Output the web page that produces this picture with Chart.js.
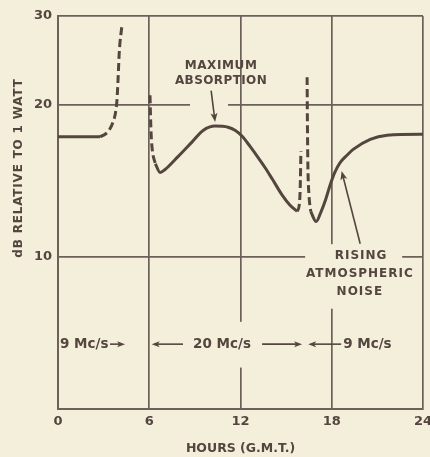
<!DOCTYPE html>
<html>
<head>
<meta charset="utf-8">
<script src="https://cdn.jsdelivr.net/npm/chart.js@4/dist/chart.umd.min.js"></script>
<style>
  html, body { margin: 0; padding: 0; background: #f3efdb; }
  #wrap { width: 430px; height: 457px; position: relative; }
</style>
</head>
<body>
<div id="wrap"><canvas id="c" width="430" height="457"></canvas></div>
<script>
// Received noise level (dB relative to 1 watt) through the day, hours G.M.T.
const xTicks = [0, 6, 12, 18, 24];
const yTicks = [10, 20, 30];

// 9 Mc/s, early morning
const morning9Solid  = [[0, 17.3], [2.76, 17.3]];
const morning9Dashed = [[2.76, 17.3], [3.1, 17.5], [3.4, 17.9], [3.62, 18.5], [3.78, 19.3],
                        [3.88, 20.5], [3.95, 22.5], [4.03, 25.5], [4.19, 28.5]];
// 20 Mc/s, daytime
const day20DashedIn  = [[6.05, 20.9], [6.08, 19.2], [6.12, 17.6], [6.2, 16.3], [6.4, 15.3]];
const day20Solid     = [[6.4, 15.3], [6.71, 14.7], [7.04, 14.9], [7.89, 15.8], [8.82, 16.9],
                        [9.54, 17.8], [10.33, 18.16], [11.18, 18.07], [11.64, 17.82], [12.11, 17.34],
                        [12.63, 16.55], [13.16, 15.73], [13.62, 15.02], [14.08, 14.28], [14.74, 13.26],
                        [15.26, 12.66], [15.72, 12.31]];
const day20DashedOut = [[15.72, 12.31], [15.86, 12.65], [15.92, 13.5], [15.95, 14.8], [15.97, 16.2]];
// 9 Mc/s, evening
const evening9Dashed = [[16.38, 22.7], [16.40, 18.5], [16.43, 15.2], [16.5, 13.3], [16.62, 12.3]];
const evening9Solid  = [[16.62, 12.3], [16.97, 11.75], [17.3, 12.3], [17.6, 13.0], [17.9, 13.9],
                        [18.2, 14.7], [18.55, 15.37], [19.0, 15.9], [19.41, 16.33], [20.53, 17.1],
                        [21.64, 17.42], [23.82, 17.5], [24, 17.5]];

const INK = '#54463f';
const GRID = '#6c6058';
const PAPER = '#f3efdb';
const FONT = '"DejaVu Sans", sans-serif';

function series(points, dashed) {
  return {
    data: points.map(([x, y]) => ({ x, y })),
    borderColor: INK,
    borderWidth: 3,
    borderDash: dashed ? [8, 4] : [],
    pointRadius: 0,
    fill: false,
    cubicInterpolationMode: 'monotone',
    borderCapStyle: 'butt'
  };
}

// Lettering, arrows and the grid-line breaks that make room for them (data units)
const notes = {
  breaks: [
    { axis: 'y', at: 20, from: 8.68, to: 11.18 },
    { axis: 'y', at: 10, from: 16.25, to: 22.63 },
    { axis: 'x', at: 12, from: 6.04, to: 7.44 },
    { axis: 'x', at: 18, from: 7.9, to: 10.6 }
  ],
  texts: [
    { t: 'MAXIMUM', x: 10.72, y: 23.85, size: 12, sp: 0.6, align: 'center' },
    { t: 'ABSORPTION', x: 10.72, y: 22.36, size: 12, sp: 0.4, align: 'center' },
    { t: 'RISING', x: 19.93, y: 10.05, size: 12, sp: 1, align: 'center' },
    { t: 'ATMOSPHERIC', x: 19.85, y: 9.24, size: 12, sp: 1, align: 'center' },
    { t: 'NOISE', x: 19.85, y: 8.51, size: 12, sp: 1, align: 'center' },
    { t: '9 Mc/s', x: 0.13, y: 6.72, size: 13.5, sp: 0, align: 'left' },
    { t: '20 Mc/s', x: 8.88, y: 6.72, size: 13.5, sp: 0, align: 'left' },
    { t: '9 Mc/s', x: 18.75, y: 6.72, size: 13.5, sp: 0, align: 'left' }
  ],
  arrows: [
    { x1: 10.07, y1: 21.35, x2: 10.33, y2: 18.5, head: 9, half: 3.5 },
    { x1: 19.87, y1: 10.62, x2: 18.65, y2: 14.8, head: 9, half: 3.5 },
    { x1: 3.42, y1: 6.72, x2: 4.41, y2: 6.72, head: 8, half: 3 },
    { x1: 8.22, y1: 6.72, x2: 6.16, y2: 6.72, head: 8, half: 3 },
    { x1: 13.42, y1: 6.72, x2: 16.05, y2: 6.72, head: 8, half: 3 },
    { x1: 18.62, y1: 6.72, x2: 16.45, y2: 6.72, head: 8, half: 3 }
  ],
  yTitle: { t: 'dB RELATIVE TO 1 WATT', x: 19, y: 168, size: 12, sp: 0.8 }
};

function arrow(ctx, x1, y1, x2, y2, head, half) {
  const a = Math.atan2(y2 - y1, x2 - x1);
  const c = Math.cos(a), s = Math.sin(a);
  ctx.beginPath();
  ctx.moveTo(x1, y1);
  ctx.lineTo(x2 - c * head * 0.6, y2 - s * head * 0.6);
  ctx.stroke();
  ctx.beginPath();
  ctx.moveTo(x2, y2);
  ctx.lineTo(x2 - c * head + s * half, y2 - s * head - c * half);
  ctx.lineTo(x2 - c * head * 0.75, y2 - s * head * 0.75);
  ctx.lineTo(x2 - c * head - s * half, y2 - s * head + c * half);
  ctx.closePath();
  ctx.fill();
}

const notesPlugin = {
  id: 'notes',
  beforeDatasetsDraw(chart) {
    const { ctx, scales: { x, y } } = chart;
    ctx.save();
    ctx.fillStyle = PAPER;
    notes.breaks.forEach(b => {
      if (b.axis === 'y') {
        const py = y.getPixelForValue(b.at);
        const a = x.getPixelForValue(b.from), e = x.getPixelForValue(b.to);
        ctx.fillRect(a, py - 3, e - a, 6);
      } else {
        const px = x.getPixelForValue(b.at);
        const a = y.getPixelForValue(b.to), e = y.getPixelForValue(b.from);
        ctx.fillRect(px - 3, a, 6, e - a);
      }
    });
    ctx.restore();
  },
  afterDatasetsDraw(chart) {
    const { ctx, scales: { x, y } } = chart;
    ctx.save();
    ctx.fillStyle = INK;
    ctx.strokeStyle = INK;
    ctx.textBaseline = 'middle';
    notes.texts.forEach(n => {
      ctx.font = `bold ${n.size}px ${FONT}`;
      ctx.letterSpacing = n.sp + 'px';
      ctx.textAlign = n.align;
      ctx.fillText(n.t, x.getPixelForValue(n.x), y.getPixelForValue(n.y));
    });
    ctx.letterSpacing = '0px';
    ctx.lineWidth = 1.6;
    notes.arrows.forEach(a => {
      arrow(ctx, x.getPixelForValue(a.x1), y.getPixelForValue(a.y1),
                 x.getPixelForValue(a.x2), y.getPixelForValue(a.y2), a.head, a.half);
    });
    const t = notes.yTitle;
    ctx.translate(t.x, t.y);
    ctx.rotate(-Math.PI / 2);
    ctx.font = `bold ${t.size}px ${FONT}`;
    ctx.letterSpacing = t.sp + 'px';
    ctx.textAlign = 'center';
    ctx.fillText(t.t, 0, 0);
    ctx.restore();
  }
};

new Chart(document.getElementById('c'), {
  type: 'line',
  data: {
    datasets: [
      series(morning9Solid, false),
      series(morning9Dashed, true),
      series(day20DashedIn, true),
      series(day20Solid, false),
      series(day20DashedOut, true),
      series(evening9Dashed, true),
      series(evening9Solid, false)
    ]
  },
  options: {
    responsive: false,
    animation: false,
    layout: { padding: { left: 0, right: 7, top: 16, bottom: 0 } },
    plugins: { legend: { display: false }, tooltip: { enabled: false } },
    scales: {
      x: {
        type: 'linear',
        min: 0, max: 24,
        afterBuildTicks(scale) { scale.ticks = xTicks.map(v => ({ value: v })); },
        afterFit(scale) { scale.height = 48; scale.paddingRight = 0; scale.paddingLeft = 0; },
        ticks: { color: INK, font: { family: FONT, size: 13, weight: 'bold' }, padding: 5, maxRotation: 0 },
        grid: { color: GRID, lineWidth: 1.7, drawTicks: false },
        border: { color: GRID, width: 2 },
        title: {
          display: true, text: 'HOURS (G.M.T.)', color: INK,
          font: { family: FONT, size: 12.5, weight: 'bold' }, padding: { top: 0, bottom: 1 }
        }
      },
      y: {
        type: 'logarithmic',
        min: 5, max: 30,
        afterBuildTicks(scale) { scale.ticks = yTicks.map(v => ({ value: v })); },
        afterFit(scale) { scale.width = 58; },
        ticks: {
          color: INK, font: { family: FONT, size: 13, weight: 'bold' }, padding: 6,
          callback: v => String(v)
        },
        grid: { color: GRID, lineWidth: 1.7, drawTicks: false },
        border: { color: GRID, width: 2 }
      }
    }
  },
  plugins: [notesPlugin]
});
</script>
</body>
</html>
